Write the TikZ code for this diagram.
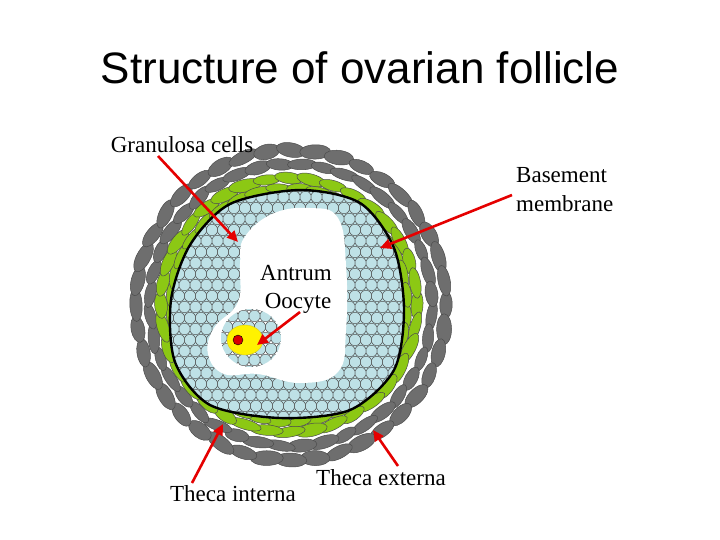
\documentclass[tikz,border=0pt]{standalone}
\usepackage{fontspec}
\setmainfont{Liberation Serif}
\newfontfamily\titlefont{Liberation Sans}
\usetikzlibrary{arrows.meta}
\definecolor{gcol}{RGB}{110,110,110}
\definecolor{grn}{RGB}{140,200,20}
\definecolor{blu}{RGB}{190,225,230}
\begin{document}
\begin{tikzpicture}[x=1pt,y=-1pt,
  lbl/.style={font=\fontsize{23}{29}\selectfont, inner sep=1pt},
  redarrow/.style={draw=red!90!black, line width=2.6pt, -{Triangle[length=11pt,width=10pt]}},
  cellG/.style={fill=gcol, draw=black!70, line width=0.5pt},
  cellGr/.style={fill=grn, draw=black!70, line width=0.5pt},
  cellB/.style={fill=blu, draw=black!70, line width=0.5pt, rounded corners=2pt}]
\useasboundingbox (0,0) rectangle (720,540);
\fill[white] (0,0) rectangle (720,540);
\node[font=\titlefont\fontsize{44}{48}\selectfont] (title) at (360,68) {Structure of ovarian follicle};
\pgfmathsetseed{7}
% theca externa
\foreach \a in {0,9,...,351} {
  \draw[cellG, shift={(291,305)}, shift={(\a:155 and 155)}, rotate={-\a+12*rand}] (0,0) ellipse ({6+1.5*rnd} and {13+4*rnd});
  \draw[cellG, shift={(291,305)}, shift={({\a+4.5}:141 and 141)}, rotate={-\a-4.5+12*rand}] (0,0) ellipse ({5+1.5*rnd} and {12+4*rnd});
}
% theca interna
\foreach \a in {0,10,...,350} {
  \draw[cellGr, shift={(289,305)}, shift={(\a:128 and 127)}, rotate={-\a+10*rand}] (0,0) ellipse ({5+1.5*rnd} and {13+4*rnd});
  \draw[cellGr, shift={(289,305)}, shift={({\a+5}:118 and 117)}, rotate={-\a-5+8*rand}] (0,0) ellipse ({4.5+rnd} and {12+3*rnd});
}
% granulosa
\def\memb{plot[smooth cycle] coordinates {(230,204) (300,190) (360,203) (394,248) (404,310) (394,370) (350,410) (280,418) (210,405) (175,362) (171,300) (190,245)}}
\fill[white] \memb;
\begin{scope}
\clip \memb;
\fill[blu] \memb;
\foreach \j in {0,...,21} \foreach \i in {0,...,21} {
  \pgfmathsetmacro\xx{168+11*\i+5.5*mod(\j,2)}
  \pgfmathsetmacro\yy{186+11*\j}
  \draw[cellB] (\xx,\yy) +(-5.5,-4) -- +(0,-6) -- +(5.5,-4) -- +(5.5,4) -- +(0,6) -- +(-5.5,4) -- cycle;
}
\end{scope}
\draw[line width=2.4pt] \memb;
% antrum
\fill[white] plot[smooth cycle, tension=0.7] coordinates {(244,238) (272,214) (310,208) (338,218) (346,265) (346,330) (338,372) (300,383) (258,374) (224,374) (208,354) (214,328) (238,302) (240,264)};
\begin{scope}
\clip (251,338) ellipse (30 and 29);
\foreach \j in {0,...,6} \foreach \i in {0,...,6} {
  \pgfmathsetmacro\xx{216+11*\i+5.5*mod(\j,2)}
  \pgfmathsetmacro\yy{305+11*\j}
  \draw[cellB] (\xx,\yy) +(-5.5,-4) -- +(0,-6) -- +(5.5,-4) -- +(5.5,4) -- +(0,6) -- +(-5.5,4) -- cycle;
}
\end{scope}
% oocyte
\draw[fill=yellow, draw=yellow!80!black] (245,340) ellipse (18 and 15);
\draw[fill=red!85!black, draw=black] (238,340) circle (5);
% labels
\node[lbl] (gran) at (182,145) {Granulosa cells};
\node[lbl, align=left, anchor=west] (bm) at (515,190) {Basement\\membrane};
\node[lbl] (antrum) at (296,273) {Antrum};
\node[lbl] (oocyte) at (298,303) {Oocyte};
\node[lbl] (ti) at (233,494) {Theca interna};
\node[lbl] (te) at (381,478) {Theca externa};
\coordinate (g1) at (158,156); \coordinate (g2) at (238,242);
\coordinate (b1) at (512,195); \coordinate (b2) at (380,248);
\coordinate (o1) at (300,312); \coordinate (o2) at (257,345);
\coordinate (t1) at (192,483); \coordinate (t2) at (223,424);
\coordinate (e1) at (398,466); \coordinate (e2) at (373,430);
\draw[redarrow] (g1) -- (g2);
\draw[redarrow] (b1) -- (b2);
\draw[redarrow] (o1) -- (o2);
\draw[redarrow] (t1) -- (t2);
\draw[redarrow] (e1) -- (e2);
\end{tikzpicture}
\end{document}
